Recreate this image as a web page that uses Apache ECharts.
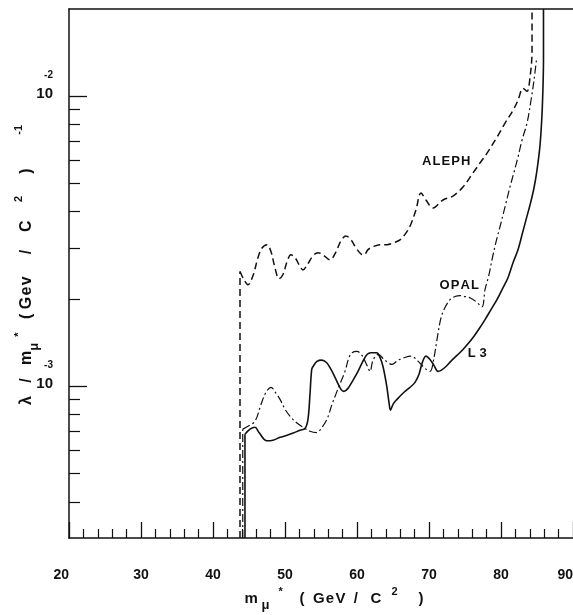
<!DOCTYPE html>
<html>
<head>
<meta charset="utf-8">
<script src="https://cdn.jsdelivr.net/npm/echarts@6/dist/echarts.min.js"></script>
<style>
html,body{margin:0;padding:0;background:#fff;}
#c{width:573px;height:615px;}
</style>
</head>
<body>
<div id="c"></div>
<script>
// ---- axis definitions ----
const xMin = 20, xMax = 90, xStep = 10;
const yMin = 3e-4, yMax = 2e-2;
const yMajorTicks = [0.001, 0.01];
const yMajorExponents = ['-3', '-2'];
const yMinorTicks = [4e-4, 5e-4, 6e-4, 7e-4, 8e-4, 9e-4, 2e-3, 3e-3, 4e-3, 5e-3, 6e-3, 7e-3, 8e-3, 9e-3];

// ---- ALEPH (dashed) ----
const alephMass = [43.75, 44.31, 44.86, 45.56, 46.25, 46.81, 47.5, 48.06, 48.61, 49.17, 49.72, 50.28, 50.83, 51.39, 51.94, 52.5, 53.19, 53.89, 54.58, 55.28, 56.25, 57.08, 57.78, 58.47, 59.17, 59.86, 60.56, 60.97, 61.53, 62.22, 63.19, 64.17, 65.14, 65.97, 66.81, 67.5, 68.19, 68.89, 69.58, 70.56, 71.94, 73.33, 74.72, 76.11, 77.08, 78.06, 79.44, 80.56, 81.67, 82.36, 83.06, 83.61, 84.03, 84.31, 84.31];
const alephLimit = [0.00249, 0.00233, 0.00224, 0.00241, 0.00278, 0.00300, 0.00308, 0.00291, 0.00256, 0.00235, 0.00243, 0.00269, 0.00284, 0.00278, 0.00263, 0.00252, 0.00265, 0.00282, 0.00289, 0.00284, 0.00273, 0.00291, 0.00318, 0.00330, 0.00320, 0.00300, 0.00286, 0.00284, 0.00296, 0.00303, 0.00308, 0.00308, 0.00313, 0.00320, 0.00338, 0.00363, 0.00406, 0.00464, 0.00439, 0.00412, 0.00439, 0.00453, 0.00487, 0.00544, 0.00589, 0.00637, 0.00723, 0.00808, 0.00895, 0.00969, 0.01065, 0.01040, 0.01163, 0.01439, 0.02];

// ---- OPAL (dash-dot) ----
const opalMass = [44.13, 44.86, 45.83, 46.67, 47.36, 48.06, 48.75, 49.31, 50.0, 50.69, 51.53, 52.5, 53.47, 54.4, 55.14, 55.83, 56.53, 57.22, 57.78, 58.33, 58.89, 59.31, 60.0, 60.69, 61.39, 61.81, 62.22, 62.92, 63.89, 64.86, 65.69, 66.53, 67.5, 68.47, 69.44, 70.14, 70.69, 71.11, 71.67, 72.22, 72.92, 73.61, 74.31, 75.0, 75.69, 76.53, 77.36, 77.78, 78.33, 78.75, 79.31, 79.86, 80.56, 81.25, 81.81, 82.36, 82.92, 83.61, 84.17, 84.58, 84.96];
const opalLimit = [0.000712, 0.000729, 0.000758, 0.000867, 0.000954, 0.000992, 0.000946, 0.000902, 0.000834, 0.000789, 0.000752, 0.000723, 0.000700, 0.000693, 0.000723, 0.000770, 0.000867, 0.000961, 0.00104, 0.001126, 0.001258, 0.001306, 0.001319, 0.001278, 0.001181, 0.001126, 0.00123, 0.001288, 0.00123, 0.00119, 0.00123, 0.001255, 0.001271, 0.001222, 0.001153, 0.001126, 0.001255, 0.00145, 0.001726, 0.001869, 0.00199, 0.00204, 0.002055, 0.00204, 0.00202, 0.00196, 0.00188, 0.002154, 0.002426, 0.002732, 0.00315, 0.00355, 0.00416, 0.00487, 0.00548, 0.00617, 0.00706, 0.00808, 0.00969, 0.01135, 0.01361];

// ---- L3 (solid) ----
const l3Mass = [44.44, 45.14, 45.83, 46.39, 47.46, 48.33, 49.31, 50.28, 51.15, 52.08, 52.78, 53.19, 53.47, 53.71, 53.93, 54.44, 55.1, 55.79, 56.39, 57.08, 57.78, 58.19, 58.75, 59.44, 60.14, 60.83, 61.39, 61.94, 62.74, 63.19, 63.61, 64.13, 64.44, 64.65, 65.0, 65.56, 66.53, 67.36, 68.06, 68.61, 69.03, 69.58, 70.14, 70.69, 71.25, 71.67, 72.36, 73.06, 73.89, 74.72, 75.56, 76.25, 77.08, 77.78, 78.61, 79.44, 80.28, 80.97, 81.67, 82.36, 82.92, 83.47, 84.03, 84.58, 85.0, 85.42, 85.69, 85.83, 85.9, 85.9];
const l3Limit = [0.000684, 0.000712, 0.000723, 0.000693, 0.000649, 0.000652, 0.000667, 0.000678, 0.00069, 0.000706, 0.000716, 0.00077, 0.000939, 0.001144, 0.001174, 0.001219, 0.001231, 0.001206, 0.001144, 0.001057, 0.000976, 0.000961, 0.000984, 0.001049, 0.001126, 0.001222, 0.001288, 0.001306, 0.001306, 0.001258, 0.001171, 0.001002, 0.000881, 0.000827, 0.000867, 0.000902, 0.000954, 0.000992, 0.001032, 0.0011, 0.0012, 0.001271, 0.001238, 0.001181, 0.001126, 0.001135, 0.001171, 0.001222, 0.001278, 0.00134, 0.001416, 0.001489, 0.001595, 0.001699, 0.001839, 0.00199, 0.002189, 0.002369, 0.002668, 0.002957, 0.00333, 0.00375, 0.00422, 0.00483, 0.00557, 0.00679, 0.0086, 0.01076, 0.0133, 0.02];

// ---- curve label anchors (data coordinates) ----
const curveNames = ['ALEPH', 'OPAL', 'L3'];
const labelMass = [72.4, 74.2, 76.7];
const labelLimit = [0.00598, 0.00222, 0.0013];

const ink = '#111';
const font = 'Liberation Sans, Arial, sans-serif';
const zip = (a, b) => a.map((v, i) => [v, b[i]]);

const curves = [
  { name: 'ALEPH', mass: alephMass, limit: alephLimit, style: { type: [7, 4], width: 1.5 } },
  { name: 'OPAL', mass: opalMass, limit: opalLimit, style: { type: [8, 3, 2, 3], width: 1.2 } },
  { name: 'L3', mass: l3Mass, limit: l3Limit, style: { type: 'solid', width: 1.6 } }
];

const series = [];
curves.forEach((c, i) => {
  series.push({
    type: 'line', name: c.name, data: zip(c.mass, c.limit), showSymbol: false, smooth: 0.35,
    lineStyle: Object.assign({ color: ink }, c.style), silent: true, z: 3,
    markPoint: {
      symbol: 'circle', symbolSize: 1, itemStyle: { color: 'rgba(0,0,0,0)' }, silent: true,
      label: { show: true, position: 'inside', color: ink, fontFamily: font, fontWeight: 'bold', fontSize: 13,
        formatter: () => curveNames[i].split('').join(curveNames[i] === 'L3' ? ' ' : '\u200a') },
      data: [{ coord: [labelMass[i], labelLimit[i]] }]
    }
  });
  // vertical rise from the bottom edge at the threshold
  series.push({
    type: 'line', data: [[c.mass[0], yMin], [c.mass[0], c.limit[0]]], showSymbol: false,
    lineStyle: Object.assign({ color: ink }, c.style), silent: true, z: 3
  });
});

const xNameRich = {
  n: { fontSize: 15, fontWeight: 'bold', fontFamily: font, color: ink },
  sub: { fontSize: 13, fontWeight: 'bold', fontFamily: font, color: ink, padding: [14, 0, 0, 0] },
  sup: { fontSize: 11, fontWeight: 'bold', fontFamily: font, color: ink, padding: [0, 0, 14, 0] }
};
const yNameRich = {
  n: { fontSize: 16, fontWeight: 'bold', fontFamily: font, color: ink },
  sub: { fontSize: 13, fontWeight: 'bold', fontFamily: font, color: ink, padding: [16, 0, 0, 0] },
  sup: { fontSize: 11, fontWeight: 'bold', fontFamily: font, color: ink, padding: [0, 0, 16, 0] }
};

const chart = echarts.init(document.getElementById('c'), null, { renderer: 'canvas' });
chart.setOption({
  animation: false,
  backgroundColor: '#fff',
  grid: { left: 69, right: 0, top: 9, bottom: 77, containLabel: false, outerBoundsMode: 'none' },
  xAxis: [{
    type: 'value', min: xMin, max: xMax, interval: xStep, position: 'bottom',
    axisLine: { lineStyle: { color: ink, width: 1.5 } },
    axisTick: { inside: true, length: 16, lineStyle: { color: ink, width: 1.3 } },
    minorTick: { show: true, splitNumber: 5, length: 9, lineStyle: { color: ink, width: 1.2 } },
    splitLine: { show: false },
    axisLabel: { color: ink, fontFamily: font, fontWeight: 'bold', fontSize: 14, margin: 30,
      alignMinLabel: 'right', alignMaxLabel: 'right' },
    name: '{n|m}{sub| μ}{sup|   *}{n|    (  G\u200ae\u200aV  /   C }{sup|  2}{n|     )}',
    nameLocation: 'middle', nameGap: 47, nameMoveOverlap: false,
    nameTextStyle: { rich: xNameRich, padding: [0, 0, 0, 26] }
  }, {
    type: 'value', min: xMin, max: xMax, position: 'top',
    axisLine: { show: true, onZero: false, lineStyle: { color: ink, width: 1.5 } },
    axisTick: { show: false }, axisLabel: { show: false }, splitLine: { show: false }
  }],
  yAxis: [{
    type: 'log', logBase: 10, min: yMin, max: yMax, position: 'left',
    axisLine: { show: true, lineStyle: { color: ink, width: 1.5 } },
    axisTick: { show: true, inside: true, length: 18, customValues: yMajorTicks, lineStyle: { color: ink, width: 1.3 } },
    splitLine: { show: false },
    axisLabel: {
      customValues: yMajorTicks, margin: 16, align: 'right', padding: [0, 0, 23, 0],
      formatter: (v) => '{e|' + yMajorExponents[yMajorTicks.findIndex(t => Math.abs(t - v) / t < 1e-6)] + '}\n{b|10}',
      rich: {
        e: { fontSize: 10, fontWeight: 'bold', fontFamily: font, color: ink, lineHeight: 19, align: 'right' },
        b: { fontSize: 15, fontWeight: 'bold', fontFamily: font, color: ink, lineHeight: 19, align: 'right' }
      }
    },
    name: '{n|λ   /   m}{sub|μ}{sup|  *}{n|   ( G\u200ae\u200av     /    C}{sup|      2}{n|     )}{sup|           -1}',
    nameLocation: 'middle', nameRotate: 90, nameGap: 28, nameMoveOverlap: false,
    nameTextStyle: { rich: yNameRich, padding: [0, 0, 0, 17] }
  }, {
    type: 'log', logBase: 10, min: yMin, max: yMax, position: 'left',
    axisLine: { show: false },
    axisTick: { show: true, inside: true, length: 11, customValues: yMinorTicks, lineStyle: { color: ink, width: 1.2 } },
    axisLabel: { show: false }, splitLine: { show: false }
  }],
  series: series
});
</script>
</body>
</html>
